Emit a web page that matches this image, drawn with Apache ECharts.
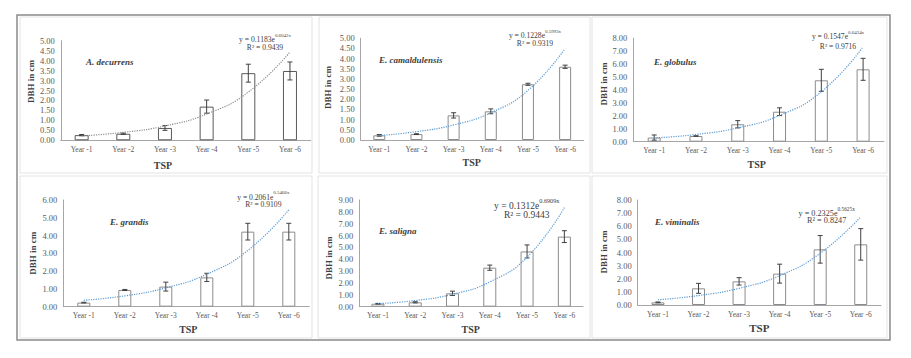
<!DOCTYPE html>
<html><head><meta charset="utf-8">
<script src="https://cdn.jsdelivr.net/npm/echarts/dist/echarts.min.js"></script>
<style>html,body{margin:0;padding:0;background:#fff}#c{width:911px;height:358px}</style>
</head><body><div id="c"></div>
<script>
// ---------- data ----------
const categories = ['Year -1','Year -2','Year -3','Year -4','Year -5','Year -6'];
const speciesNames = ['A. decurrens','E. camaldulensis','E. globulus','E. grandis','E. saligna','E. viminalis'];

const meanDecurrens     = [0.26, 0.33, 0.62, 1.69, 3.37, 3.48];
const errDecurrens      = [0.03, 0.03, 0.12, 0.33, 0.45, 0.45];
const trendDecurrens    = [0.22, 0.40, 0.72, 1.32, 2.42, 4.43];

const meanCamaldulensis = [0.23, 0.29, 1.21, 1.41, 2.74, 3.60];
const errCamaldulensis  = [0.04, 0.02, 0.13, 0.12, 0.05, 0.08];
const trendCamaldulensis= [0.22, 0.41, 0.74, 1.34, 2.44, 4.50];

const meanGlobulus      = [0.32, 0.44, 1.35, 2.32, 4.75, 5.60];
const errGlobulus       = [0.20, 0.02, 0.28, 0.30, 0.85, 0.85];
const trendGlobulus     = [0.29, 0.56, 1.07, 2.03, 3.86, 7.34];

const meanGrandis       = [0.23, 0.94, 1.13, 1.65, 4.22, 4.22];
const errGrandis        = [0.02, 0.03, 0.25, 0.23, 0.47, 0.47];
const trendGrandis      = [0.36, 0.61, 1.06, 1.83, 3.16, 5.45];

const meanSaligna       = [0.25, 0.37, 1.13, 3.29, 4.66, 5.91];
const errSaligna        = [0.03, 0.05, 0.18, 0.22, 0.55, 0.50];
const trendSaligna      = [0.26, 0.52, 1.05, 2.09, 4.18, 8.36];

const meanViminalis     = [0.20, 1.27, 1.80, 2.39, 4.24, 4.62];
const errViminalis      = [0.03, 0.38, 0.28, 0.72, 1.05, 1.20];
const trendViminalis    = [0.40, 0.72, 1.27, 2.24, 3.94, 6.72];

const eqCoef   = ['0.1183','0.1228','0.1547','0.2061','0.1312','0.2325'];
const eqExp    = ['0.6042x','0.5993x','0.6434x','0.5466x','0.6909x','0.5625x'];
const rSquared = ['0.9439','0.9319','0.9716','0.9109','0.9443','0.8247'];

const yMax      = [5, 5, 8, 6, 9, 8];
const yInterval = [0.5, 0.5, 1, 1, 1, 1];

// ---------- layout ----------
const means  = [meanDecurrens, meanCamaldulensis, meanGlobulus, meanGrandis, meanSaligna, meanViminalis];
const errs   = [errDecurrens, errCamaldulensis, errGlobulus, errGrandis, errSaligna, errViminalis];
const trends = [trendDecurrens, trendCamaldulensis, trendGlobulus, trendGrandis, trendSaligna, trendViminalis];

const FONT = "Liberation Serif";
const grids = [
  {left:60.8, top:40.7, width:250, height:99.6},
  {left:360.7, top:38.3, width:223, height:101.7},
  {left:633.3, top:38.3, width:250.7, height:103.4},
  {left:63.3, top:200, width:246, height:106.7},
  {left:359.3, top:200, width:223.7, height:106.7},
  {left:637.7, top:200, width:243.3, height:105}
];
const barW = [14, 12, 13, 13, 13, 13];
const barBorder = ['#595959','#8c8c8c','#8c8c8c','#8c8c8c','#8c8c8c','#8c8c8c'];
const trendColor = ['#8c8c8c','#5b9bd5','#5b9bd5','#5b9bd5','#5b9bd5','#5b9bd5'];
const yTitlePos = [[30.7,81.5],[328.3,87.5],[604,84],[33.3,253.3],[329,258],[604,252]];
const tspPos = [[163,165],[471.7,162.3],[756.7,164.3],[188.3,329],[470.7,329],[759.3,327.7]];
const tspSize = [10,10,10,10,10,11];
const specPos = [[86,62],[379,60],[654,61.7],[110,222.3],[379,230.7],[655,222.3]];
const eqPos = [[265,38,47],[535,34.3,43.7],[838,35,46.3],[263.3,195.7,204.3],[526.7,204.3,215],[826.7,211.7,220.7]];
const eqSize = [7.6,7.6,7.6,7.6,9.5,8.2];

const panels = [
  [20,17,292,156],[319,17,271,156],[592,17,295,156],
  [20,176,292,162],[318,176,272,162],[592,176,295,162]
];

const xAxes = [], yAxes = [], series = [], graphics = [];

panels.forEach(p => graphics.push({type:'rect', shape:{x:p[0],y:p[1],width:p[2],height:p[3]}, style:{fill:'none', stroke:'#e3e3e3', lineWidth:1}, silent:true}));
graphics.push({type:'rect', shape:{x:17,y:15,width:873,height:325}, style:{fill:'none', stroke:'#8a8a8a', lineWidth:1.5}, silent:true});

for (let i = 0; i < 6; i++) {
  xAxes.push({
    type:'category', gridIndex:i, data:categories,
    axisLine:{lineStyle:{color:'#a6a6a6', width:1}}, axisTick:{show:false},
    axisLabel:{fontFamily:FONT, fontSize:7.5, color:'#595959', margin:5}
  });
  yAxes.push({
    type:'value', gridIndex:i, min:0, max:yMax[i], interval:yInterval[i],
    axisLine:{show:true, lineStyle:{color:'#a6a6a6', width:1}}, axisTick:{show:false},
    splitLine:{show:false},
    axisLabel:{fontFamily:FONT, fontSize:8.5, color:'#595959', margin:6, formatter:v=>v.toFixed(2)}
  });
  series.push({
    type:'bar', xAxisIndex:i, yAxisIndex:i, data:means[i], barWidth:barW[i],
    itemStyle:{color:'#ffffff', borderColor:barBorder[i], borderWidth:1}, silent:true
  });
  series.push({
    type:'custom', xAxisIndex:i, yAxisIndex:i, z:5, silent:true,
    data: means[i].map((m,k)=>[k, m-errs[i][k], m+errs[i][k]]),
    encode:{x:0, y:[1,2]},
    renderItem:function(params, api){
      const x = api.value(0);
      const pLo = api.coord([x, api.value(1)]);
      const pHi = api.coord([x, api.value(2)]);
      const h = 2.5, st = {stroke:'#404040', lineWidth:1};
      return {type:'group', children:[
        {type:'line', shape:{x1:pLo[0],y1:pLo[1],x2:pHi[0],y2:pHi[1]}, style:st},
        {type:'line', shape:{x1:pLo[0]-h,y1:pLo[1],x2:pLo[0]+h,y2:pLo[1]}, style:st},
        {type:'line', shape:{x1:pHi[0]-h,y1:pHi[1],x2:pHi[0]+h,y2:pHi[1]}, style:st}
      ]};
    }
  });
  series.push({
    type:'line', xAxisIndex:i, yAxisIndex:i, data:trends[i], smooth:true,
    showSymbol:false, symbol:'none', z:6, silent:true,
    lineStyle:{color:trendColor[i], width:1.2, type:'dotted'}
  });

  // texts
  graphics.push({type:'text', x:yTitlePos[i][0], y:yTitlePos[i][1], rotation:Math.PI/2,
    style:{text:'DBH in cm', fontFamily:FONT, fontSize:9, fontWeight:'bold', fill:'#404040', align:'center', verticalAlign:'middle'}});
  graphics.push({type:'text', x:tspPos[i][0], y:tspPos[i][1],
    style:{text:'TSP', fontFamily:FONT, fontSize:tspSize[i], fontWeight:'bold', fill:'#404040', align:'center', verticalAlign:'middle'}});
  graphics.push({type:'text', x:specPos[i][0], y:specPos[i][1],
    style:{text:speciesNames[i], fontFamily:FONT, fontSize:9, fontWeight:'bold', fontStyle:'italic', fill:'#404040', align:'left', verticalAlign:'middle'}});
  const fs = eqSize[i];
  graphics.push({type:'text', x:eqPos[i][0], y:eqPos[i][1],
    style:{text:`{m|y = ${eqCoef[i]}e}{s|${eqExp[i]}}`, align:'center', verticalAlign:'middle',
      rich:{m:{fontFamily:FONT, fontSize:fs, fill:'#404040', lineHeight:fs+3, verticalAlign:'bottom'},
            s:{fontFamily:FONT, fontSize:fs*0.65, fill:'#404040', lineHeight:fs*0.65, verticalAlign:'top'}}}});
  graphics.push({type:'text', x:eqPos[i][0], y:eqPos[i][2],
    style:{text:`R² = ${rSquared[i]}`, fontFamily:FONT, fontSize:fs, fill:'#404040', align:'center', verticalAlign:'middle'}});
}

const chart = echarts.init(document.getElementById('c'), null, {renderer:'svg'});
chart.setOption({
  animation:false,
  backgroundColor:'#ffffff',
  grid:grids,
  xAxis:xAxes,
  yAxis:yAxes,
  series:series,
  graphic:graphics
});
</script></body></html>
